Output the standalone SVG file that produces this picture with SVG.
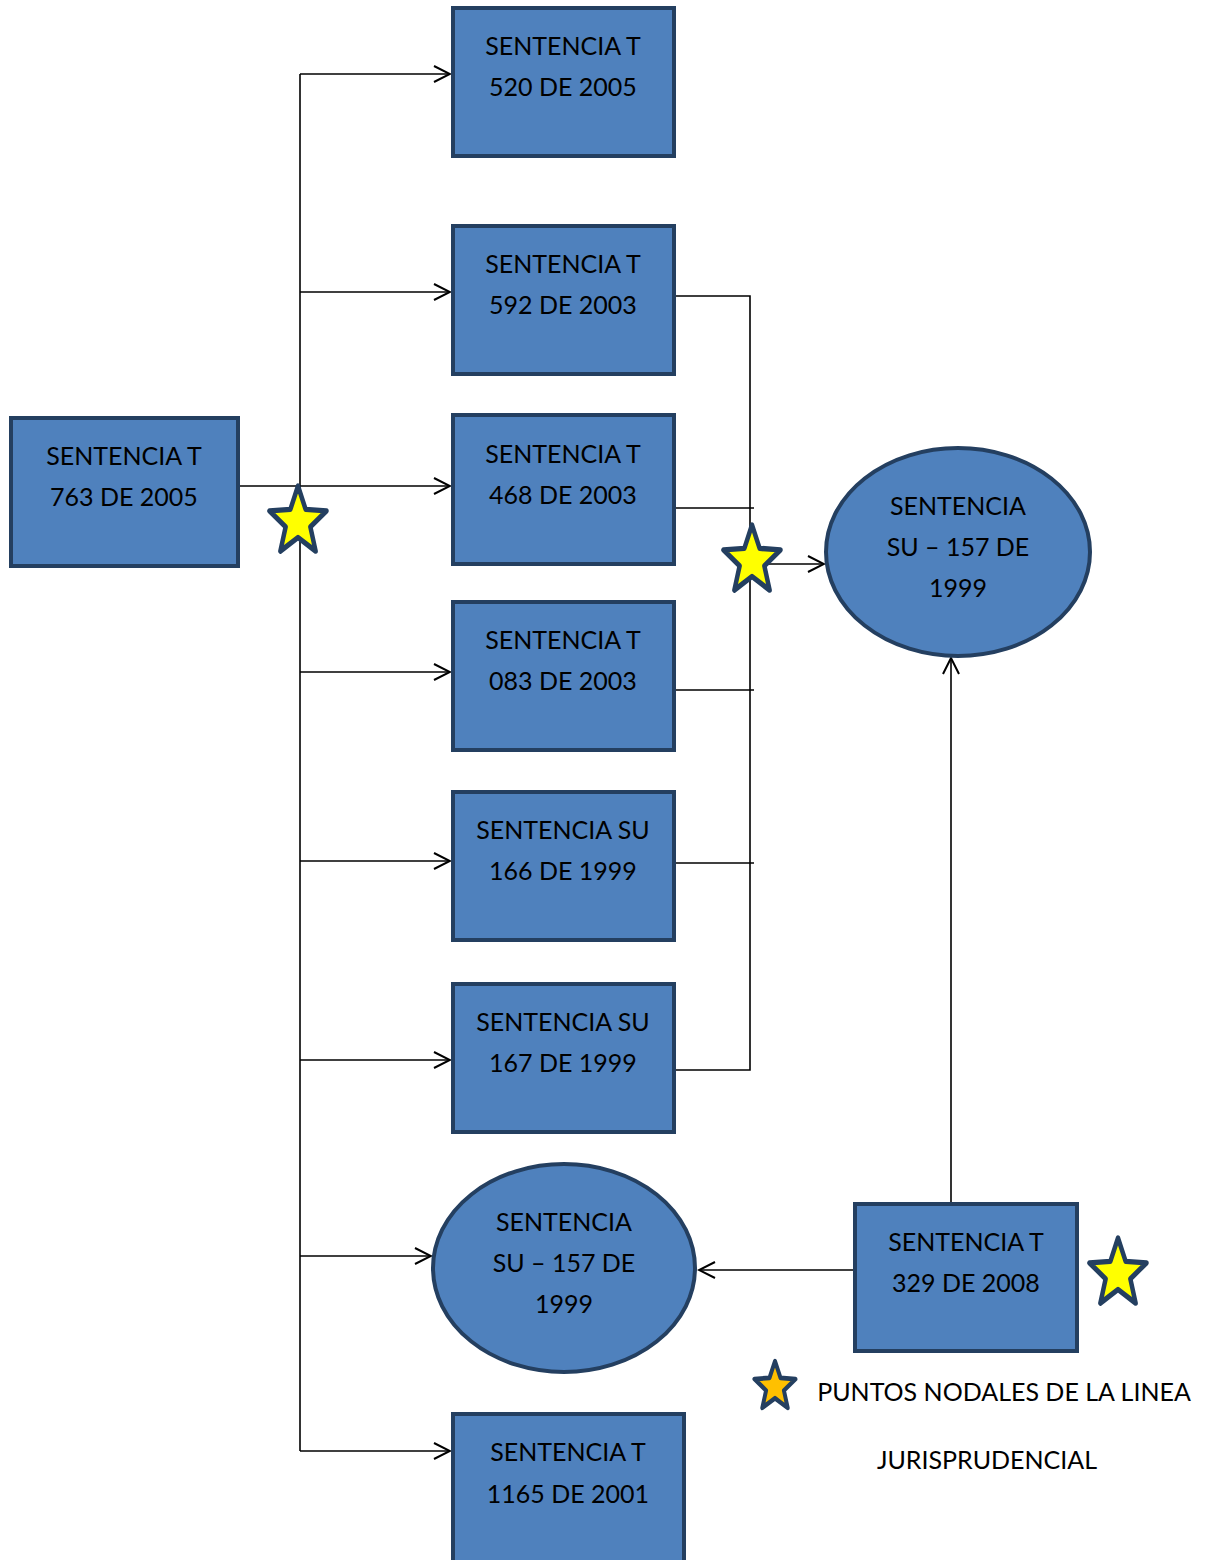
<svg xmlns="http://www.w3.org/2000/svg" width="1209" height="1560" viewBox="0 0 1209 1560">
<style>
.box{fill:#4F81BD;stroke:#243F60;stroke-width:4}
.t{font-family:Lato,"Liberation Sans",sans-serif;font-size:25px;fill:#000;text-anchor:middle;dominant-baseline:central}
.c{fill:none;stroke:#000;stroke-width:1.6}
.star{fill:#FFFF00;stroke:#243F60;stroke-width:4.5;stroke-linejoin:round}
</style>
<defs>
<marker id="ah" markerUnits="userSpaceOnUse" markerWidth="20" markerHeight="20" refX="18" refY="9" orient="auto">
<path d="M2,1 L18,9 L2,17" fill="none" stroke="#000" stroke-width="2"/>
</marker>
<path id="starshape" d="M0,-30 L7.64,-10.52 L28.53,-9.27 L12.36,4.02 L17.63,24.27 L0,13 L-17.63,24.27 L-12.36,4.02 L-28.53,-9.27 L-7.64,-10.52 Z"/>
</defs>
<rect width="1209" height="1560" fill="#fff"/>
<g id="connectors">
<line class="c" x1="300" y1="74" x2="300" y2="1451"/>
<line class="c" x1="300" y1="74" x2="450" y2="74" marker-end="url(#ah)"/>
<line class="c" x1="300" y1="292" x2="450" y2="292" marker-end="url(#ah)"/>
<line class="c" x1="239" y1="486" x2="450" y2="486" marker-end="url(#ah)"/>
<line class="c" x1="300" y1="672" x2="450" y2="672" marker-end="url(#ah)"/>
<line class="c" x1="300" y1="861" x2="450" y2="861" marker-end="url(#ah)"/>
<line class="c" x1="300" y1="1060" x2="450" y2="1060" marker-end="url(#ah)"/>
<line class="c" x1="300" y1="1256" x2="431" y2="1256" marker-end="url(#ah)"/>
<line class="c" x1="300" y1="1451" x2="450" y2="1451" marker-end="url(#ah)"/>
<polyline class="c" points="675,296 750,296 750,1070 675,1070"/>
<line class="c" x1="675" y1="508" x2="754" y2="508"/>
<line class="c" x1="675" y1="690" x2="754" y2="690"/>
<line class="c" x1="675" y1="863" x2="754" y2="863"/>
<line class="c" x1="750" y1="564" x2="824" y2="564" marker-end="url(#ah)"/>
<line class="c" x1="854" y1="1270" x2="699" y2="1270" marker-end="url(#ah)"/>
<line class="c" x1="951" y1="1203" x2="951" y2="658" marker-end="url(#ah)"/>
</g>
<g id="n_t520"><rect class="box" x="453" y="8" width="221" height="148"/><text class="t" x="563" y="44.5">SENTENCIA T</text><text class="t" x="563" y="85.5">520 DE 2005</text></g>
<g id="n_t592"><rect class="box" x="453" y="226" width="221" height="148"/><text class="t" x="563" y="262.5">SENTENCIA T</text><text class="t" x="563" y="303.5">592 DE 2003</text></g>
<g id="n_t468"><rect class="box" x="453" y="415" width="221" height="149"/><text class="t" x="563" y="452.5">SENTENCIA T</text><text class="t" x="563" y="493.5">468 DE 2003</text></g>
<g id="n_t083"><rect class="box" x="453" y="602" width="221" height="148"/><text class="t" x="563" y="638.5">SENTENCIA T</text><text class="t" x="563" y="679.5">083 DE 2003</text></g>
<g id="n_su166"><rect class="box" x="453" y="792" width="221" height="148"/><text class="t" x="563" y="828.5">SENTENCIA SU</text><text class="t" x="563" y="869.5">166 DE 1999</text></g>
<g id="n_su167"><rect class="box" x="453" y="984" width="221" height="148"/><text class="t" x="563" y="1020.5">SENTENCIA SU</text><text class="t" x="563" y="1061.5">167 DE 1999</text></g>
<g id="n_su157b"><ellipse class="box" cx="564" cy="1268" rx="131" ry="104"/><text class="t" x="564" y="1220.5">SENTENCIA</text><text class="t" x="564" y="1261.5">SU – 157 DE</text><text class="t" x="564" y="1302.5">1999</text></g>
<g id="n_t1165"><rect class="box" x="453" y="1414" width="231" height="150"/><text class="t" x="568" y="1450.5">SENTENCIA T</text><text class="t" x="568" y="1492.5">1165 DE 2001</text></g>
<g id="n_t763"><rect class="box" x="11" y="418" width="227" height="148"/><text class="t" x="124" y="454.5">SENTENCIA T</text><text class="t" x="124" y="495.5">763 DE 2005</text></g>
<g id="n_su157a"><ellipse class="box" cx="958" cy="552" rx="132" ry="104"/><text class="t" x="958" y="504.5">SENTENCIA</text><text class="t" x="958" y="545.5">SU – 157 DE</text><text class="t" x="958" y="586.5">1999</text></g>
<g id="n_t329"><rect class="box" x="855" y="1204" width="222" height="147"/><text class="t" x="966" y="1240.5">SENTENCIA T</text><text class="t" x="966" y="1281.5">329 DE 2008</text></g>
<g id="stars">
<use href="#starshape" class="star" transform="translate(298,522) scale(1,1.2)"/>
<use href="#starshape" class="star" transform="translate(752,561) scale(1,1.2)"/>
<use href="#starshape" class="star" transform="translate(1118,1274) scale(1,1.2)"/>
</g>
<g id="legend">
<use href="#starshape" transform="translate(775,1387) scale(0.72,0.86)" style="fill:#FFC000;stroke:#243F60;stroke-width:5.5;stroke-linejoin:round"/>
<text class="t" x="1004" y="1390.5">PUNTOS NODALES DE LA LINEA</text>
<text class="t" x="987" y="1458.5">JURISPRUDENCIAL</text>
</g>
</svg>
